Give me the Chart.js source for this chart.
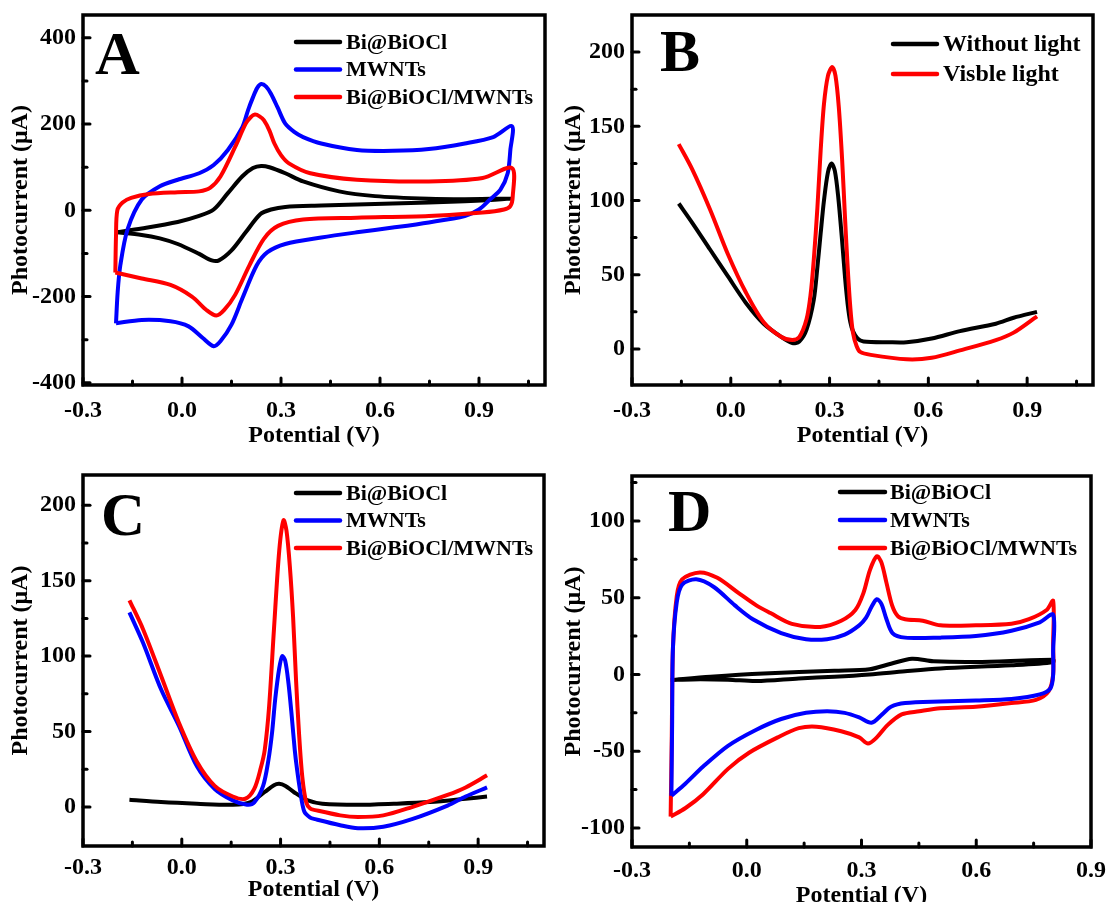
<!DOCTYPE html>
<html><head><meta charset="utf-8">
<script src="https://cdn.jsdelivr.net/npm/chart.js@4.4.1/dist/chart.umd.min.js"></script>
<style>
html,body{margin:0;padding:0;background:#fff;width:1107px;height:902px;overflow:hidden}
canvas{position:absolute;display:block}
</style></head><body>
<canvas id="cA" width="553" height="450" style="left:0;top:0"></canvas>
<canvas id="cB" width="554" height="450" style="left:553px;top:0"></canvas>
<canvas id="cC" width="553" height="452" style="left:0;top:450px"></canvas>
<canvas id="cD" width="554" height="452" style="left:553px;top:450px"></canvas>
<script>
// ---------- DATA ----------
// Panel A (CV)
const aBiV = [-0.2,-0.122,-0.013,0.052,0.096,0.139,0.183,0.215,0.24,0.265,0.313,0.367,0.476,0.585,0.748,0.857,1.0,0.857,0.639,0.422,0.313,0.27,0.237,0.193,0.15,0.112,0.09,0.052,-0.013,-0.067,-0.122,-0.2];
const aBiI = [-51,-42,-27,-13,2,40,79,98,103,100,86,67,44,33,27,26,27,21,16,11,8,2,-9,-51,-93,-116,-116,-101,-78,-65,-57,-51];
const aMwV = [-0.2,-0.195,-0.187,-0.165,-0.122,-0.067,-0.013,0.052,0.096,0.139,0.183,0.2,0.215,0.228,0.24,0.255,0.27,0.29,0.313,0.34,0.367,0.422,0.53,0.639,0.748,0.857,0.943,1.0,0.995,0.987,0.965,0.933,0.9,0.857,0.748,0.639,0.53,0.422,0.313,0.259,0.226,0.183,0.15,0.117,0.096,0.063,0.02,-0.035,-0.122,-0.2];
const aMwI = [-262,-190,-128,-44,25,56,71,86,105,140,193,232,262,284,293,287,270,238,201,182,170,155,140,138,142,155,170,195,140,86,48,25,2,-13,-28,-40,-51,-63,-78,-97,-128,-204,-265,-303,-315,-296,-269,-257,-254,-262];
const aCoV = [-0.202,-0.2,-0.196,-0.18,-0.154,-0.1,-0.013,0.052,0.085,0.117,0.161,0.193,0.208,0.221,0.235,0.248,0.265,0.28,0.3,0.324,0.389,0.53,0.748,0.911,1.0,1.002,0.995,0.976,0.911,0.748,0.53,0.367,0.291,0.248,0.204,0.161,0.128,0.104,0.074,0.03,-0.035,-0.122,-0.202];
const aCoI = [-144,-60,0,18,29,38,42,44,52,79,147,201,216,222,218,209,185,155,128,109,86,71,67,75,98,30,10,2,-5,-13,-17,-21,-36,-66,-128,-196,-231,-244,-231,-200,-173,-158,-144];
// Panel B (DPV)
const bDarkV = [-0.158,-0.117,-0.063,-0.009,0.046,0.1,0.154,0.187,0.208,0.23,0.252,0.263,0.273,0.283,0.295,0.306,0.316,0.326,0.338,0.347,0.355,0.363,0.371,0.385,0.403,0.479,0.534,0.61,0.696,0.805,0.859,0.93];
const bDarkI = [98,85,67,49,31,17,8,4,5,13,33,55,78,100,119,125,120,103,73,48,30,18,12,7,5,4.5,4.5,7,12,17,21,25];
const bLightV = [-0.158,-0.117,-0.063,-0.009,0.046,0.1,0.154,0.187,0.208,0.23,0.242,0.252,0.263,0.273,0.283,0.295,0.308,0.318,0.328,0.338,0.347,0.355,0.363,0.371,0.382,0.393,0.425,0.534,0.61,0.696,0.805,0.859,0.93];
const bLightI = [138,121,94,64,38,18,8,6,8,20,36,60,95,134,165,184,190,184,163,128,88,55,28,11,2,-2,-4,-7,-6,-1,6,11,22];
// Panel C (DPV)
const cBiV = [-0.159,-0.063,0.046,0.155,0.209,0.252,0.28,0.296,0.315,0.34,0.383,0.427,0.535,0.644,0.753,0.862,0.927];
const cBiI = [4.8,3.3,2.2,1.5,3.3,10,14.5,15.4,14,10,4.4,2.2,1.5,2.2,3.3,5.5,7];
const cMwV = [-0.159,-0.118,-0.063,-0.009,0.046,0.1,0.155,0.198,0.22,0.247,0.263,0.274,0.284,0.296,0.305,0.314,0.324,0.334,0.343,0.35,0.36,0.372,0.39,0.405,0.481,0.535,0.612,0.699,0.807,0.862,0.927];
const cMwI = [129,109,78,54,27,12,4.4,1.5,3,14,31,49,72,92,100,97,82,60,38,25,10,-3,-7,-8,-12,-14,-13,-8,1,7,13];
const cCoV = [-0.159,-0.118,-0.063,-0.009,0.046,0.1,0.155,0.193,0.22,0.24,0.252,0.265,0.28,0.296,0.309,0.318,0.328,0.338,0.347,0.356,0.366,0.378,0.39,0.405,0.481,0.535,0.612,0.699,0.807,0.862,0.927];
const cCoI = [137,118,87,56,30,14,7,5.5,12,26,38,66,118,170,190,183,160,126,84,49,20,3,-1,-2,-5.5,-6.6,-5.5,0,8,13,21];
// Panel D (CV)
const dBiV = [-0.199,-0.095,0.044,0.229,0.321,0.377,0.432,0.488,0.599,0.801,0.801,0.692,0.506,0.414,0.321,0.229,0.136,0.025,-0.049,-0.142,-0.199];
const dBiI = [-3.6,-1.5,0.6,2.4,3.4,7,10.3,8.6,8.1,9.6,8,6,3.9,2.1,0,-1.5,-2.6,-4.3,-3.4,-3.2,-3.6];
const dMwV = [-0.197,-0.195,-0.193,-0.183,-0.169,-0.132,-0.086,-0.031,0.016,0.09,0.155,0.21,0.256,0.294,0.312,0.326,0.34,0.352,0.364,0.381,0.414,0.506,0.599,0.692,0.766,0.801,0.801,0.801,0.794,0.766,0.692,0.599,0.506,0.414,0.377,0.354,0.326,0.294,0.256,0.21,0.155,0.09,0.025,-0.049,-0.114,-0.16,-0.197];
const dMwI = [-79,-30,17,47,58.5,62,57,45,36,27,23,23,26,32,37,44,49,46,37,27,24,24,25,28.5,34,39,15,-0.4,-9,-13,-16,-17,-17.6,-18.6,-21,-26,-31.5,-28,-25,-24,-25,-29,-36,-46.5,-60,-71,-79];
const dCoV = [-0.199,-0.196,-0.193,-0.183,-0.169,-0.123,-0.077,-0.021,0.025,0.062,0.118,0.192,0.247,0.284,0.305,0.322,0.34,0.352,0.365,0.38,0.395,0.414,0.46,0.506,0.599,0.692,0.738,0.784,0.801,0.801,0.801,0.789,0.756,0.692,0.599,0.506,0.451,0.405,0.368,0.34,0.317,0.294,0.247,0.182,0.136,0.081,0.006,-0.049,-0.114,-0.16,-0.199];
const dCoI = [-92.6,-40,17,51,62,66.5,63,53,45,40,33,31,35,42,53,68,77,73,60,45,38,36,35,32,32,33,36,42,48,20,0,-11,-16.5,-18.6,-21,-22,-24,-26,-33,-41,-45,-41,-37,-34,-35,-41,-51,-61.5,-78,-87,-92.6];
// Tick values
const xMajor = [-0.3, 0, 0.3, 0.6, 0.9];
const xMinorABC = [-0.15, 0.15, 0.45, 0.75, 1.05];
const xMinorD = [-0.15, 0.15, 0.45, 0.75];
const yMajorA = [-400, -200, 0, 200, 400];
const yMinorA = [-300, -100, 100, 300];
const yMajorBC = [0, 50, 100, 150, 200];
const yMinorBC = [25, 75, 125, 175];
const yMajorD = [-100, -50, 0, 50, 100];
const yMinorD = [-75, -25, 25, 75, 125];
// Labels
const lblBi = 'Bi@BiOCl', lblMw = 'MWNTs', lblCo = 'Bi@BiOCl/MWNTs';
const lblDark = 'Without light', lblLight = 'Visble light';

// ---------- RENDER ----------
const FAM = "'Liberation Serif','Times New Roman',serif";
const BLACK = '#000000', BLUE = '#0000ff', RED = '#ff0000';
function pts(xs, ys){ return xs.map((x,i)=>({x:x, y:ys[i]})); }
function ds(label, xs, ys, color, order){
  return {label, data: pts(xs, ys), borderColor: color, backgroundColor: color, borderWidth: 4,
          showLine: true, pointRadius: 0, tension: 0.3, order, fill: false};
}
const panelPlugin = {
  id: 'panel',
  afterDatasetsDraw(chart, args, o){
    const ctx = chart.ctx, ca = chart.chartArea, xs = chart.scales.x, ys = chart.scales.y;
    ctx.save();
    ctx.strokeStyle = '#000'; ctx.lineCap = 'round';
    ctx.lineWidth = 3;
    const seg = (x1,y1,x2,y2)=>{ctx.beginPath();ctx.moveTo(x1,y1);ctx.lineTo(x2,y2);ctx.stroke();};
    o.xMajor.forEach(v=>{const p=xs.getPixelForValue(v); seg(p, ca.bottom, p, ca.bottom-7);});
    o.xMinor.forEach(v=>{const p=xs.getPixelForValue(v); seg(p, ca.bottom, p, ca.bottom-4);});
    o.yMajor.forEach(v=>{const p=ys.getPixelForValue(v); seg(ca.left, p, ca.left+7, p);});
    o.yMinor.forEach(v=>{const p=ys.getPixelForValue(v); if(p>ca.top+2) seg(ca.left, p, ca.left+4, p);});
    ctx.lineCap = 'square'; ctx.lineWidth = 3.5;
    ctx.strokeRect(ca.left, ca.top, ca.right-ca.left, ca.bottom-ca.top);
    // panel letter
    ctx.fillStyle = '#000'; ctx.textBaseline = 'alphabetic'; ctx.textAlign = 'left';
    ctx.font = 'bold ' + o.letterSize + 'px ' + FAM;
    ctx.fillText(o.letter, ca.left + o.letterX, ca.top + o.letterY);
    // legend
    ctx.font = 'bold ' + o.legFont + 'px ' + FAM;
    ctx.textBaseline = 'middle'; ctx.lineCap = 'round';
    chart.data.datasets.forEach((d,i)=>{
      const y = ca.top + o.legY + i*o.legDy, x0 = ca.left + o.legX;
      ctx.strokeStyle = d.borderColor; ctx.lineWidth = 4.5;
      seg(x0, y, x0 + o.legLen, y);
      ctx.fillStyle = '#000';
      ctx.fillText(d.label, x0 + o.legLen + o.legGap, y + 1);
    });
    ctx.restore();
  }
};
function make(id, p){
  const tickFont = {family: FAM, size: 24, weight: 'bold'};
  const titleFont = {family: FAM, size: 24, weight: 'bold'};
  return new Chart(document.getElementById(id), {
    type: 'scatter',
    data: {datasets: p.datasets},
    options: {
      responsive: false, animation: false, devicePixelRatio: 1,
      layout: {padding: {left: 0, top: p.padTop, right: p.padRight, bottom: 0}, autoPadding: false},
      plugins: {legend: {display: false}, tooltip: {enabled: false},
        panel: {letter: p.letter, letterSize: p.letterSize, letterX: p.letterX, letterY: p.letterY,
                legX: p.legX, legY: p.legY, legDy: p.legDy, legLen: p.legLen, legGap: p.legGap, legFont: p.legFont,
                xMajor: xMajor, xMinor: p.xMinor, yMajor: p.yMajor, yMinor: p.yMinor}},
      scales: {
        x: {type: 'linear', min: p.xMin, max: p.xMax,
            afterBuildTicks: s => { s.ticks = xMajor.map(v=>({value: v})); },
            afterFit: s => { s.height = p.xAxisH; },
            grid: {display: false}, border: {display: false},
            ticks: {font: tickFont, color: '#000', padding: p.xTickPad, maxRotation: 0, autoSkip: false,
                    callback: v => Number(v).toFixed(1)},
            title: {display: true, text: 'Potential (V)', font: titleFont, color: '#000', padding: {top: 0, bottom: p.xTitlePad}}},
        y: {type: 'linear', min: p.yMin, max: p.yMax,
            afterBuildTicks: s => { s.ticks = p.yMajor.map(v=>({value: v})); },
            afterFit: s => { s.width = p.yAxisW; },
            grid: {display: false}, border: {display: false},
            ticks: {font: tickFont, color: '#000', padding: -1, autoSkip: false, callback: v => String(v)},
            title: {display: true, text: 'Photocurrent (μA)', font: titleFont, color: '#000', padding: {top: 6, bottom: 0}}}
      }
    },
    plugins: [panelPlugin]
  });
}
make('cA', {
  datasets: [ds(lblBi, aBiV, aBiI, BLACK, 2), ds(lblMw, aMwV, aMwI, BLUE, 1), ds(lblCo, aCoV, aCoI, RED, 0)],
  xMin: -0.3, xMax: 1.1, yMin: -405, yMax: 453, yMajor: yMajorA, yMinor: yMinorA, xMinor: xMinorABC,
  padTop: 15, padRight: 8, yAxisW: 83, xAxisH: 65, xTickPad: 3, xTitlePad: 0,
  letter: 'A', letterSize: 62, letterX: 12, letterY: 59,
  legX: 213, legY: 27, legDy: 27.5, legLen: 44, legGap: 6, legFont: 22
});
make('cB', {
  datasets: [ds(lblDark, bDarkV, bDarkI, BLACK, 1), ds(lblLight, bLightV, bLightI, RED, 0)],
  xMin: -0.3, xMax: 1.1, yMin: -24.3, yMax: 225, yMajor: yMajorBC, yMinor: yMinorBC, xMinor: xMinorABC,
  padTop: 15, padRight: 14, yAxisW: 79, xAxisH: 65, xTickPad: 3, xTitlePad: 0,
  letter: 'B', letterSize: 60, letterX: 28, letterY: 56,
  legX: 261, legY: 29, legDy: 30, legLen: 44, legGap: 6, legFont: 24
});
make('cC', {
  datasets: [ds(lblBi, cBiV, cBiI, BLACK, 2), ds(lblMw, cMwV, cMwI, BLUE, 1), ds(lblCo, cCoV, cCoI, RED, 0)],
  xMin: -0.3, xMax: 1.1, yMin: -25.8, yMax: 220, yMajor: yMajorBC, yMinor: yMinorBC, xMinor: xMinorABC,
  padTop: 25, padRight: 9, yAxisW: 83, xAxisH: 56, xTickPad: -1, xTitlePad: -2,
  letter: 'C', letterSize: 61, letterX: 18, letterY: 60,
  legX: 213, legY: 18, legDy: 27.5, legLen: 44, legGap: 6, legFont: 22
});
make('cD', {
  datasets: [ds(lblBi, dBiV, dBiI, BLACK, 2), ds(lblMw, dMwV, dMwI, BLUE, 0), ds(lblCo, dCoV, dCoI, RED, 1)],
  xMin: -0.3, xMax: 0.9, yMin: -112.4, yMax: 129.3, yMajor: yMajorD, yMinor: yMinorD, xMinor: xMinorD,
  padTop: 26, padRight: 14, yAxisW: 79, xAxisH: 55, xTickPad: 1, xTitlePad: -8,
  letter: 'D', letterSize: 60, letterX: 36, letterY: 55,
  legX: 208, legY: 16, legDy: 28, legLen: 45, legGap: 5, legFont: 22
});
</script>
</body></html>
